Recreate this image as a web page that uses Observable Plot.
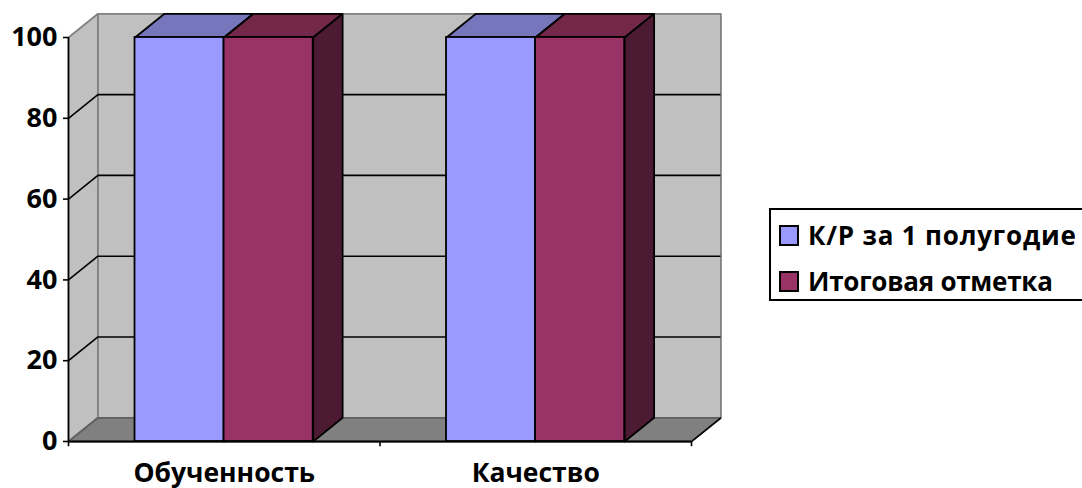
<!DOCTYPE html>
<html><head><meta charset="utf-8">
<script src="https://cdn.jsdelivr.net/npm/d3@7"></script>
<script src="https://cdn.jsdelivr.net/npm/@observablehq/plot@0.6"></script>
<style>
html,body{margin:0;padding:0;background:#fff;overflow:hidden}
#wrap{position:relative;width:1082px;height:488px}
#legend{position:absolute;left:769px;top:208px;width:320px;height:93px;box-sizing:border-box;border:2px solid #000;background:#fff;font:bold 26px "Open Sans",sans-serif;color:#000}
.row{position:absolute;left:8px;display:flex;align-items:center;white-space:nowrap}
.sw{width:16px;height:17px;border:2px solid #000;margin-right:9px;display:inline-block;box-sizing:content-box}
svg text{font-family:"Open Sans",sans-serif;font-weight:bold}
</style></head><body>
<div id="wrap"></div>
<script>
const categories = ["Обученность", "Качество"];
const seriesNames = ["К/Р за 1 полугодие", "Итоговая отметка"];
const kr = [100, 100];
const itog = [100, 100];
const yTicks = [0, 20, 40, 60, 80, 100];
const frontColors = ["#9999ff", "#993366"];
const topColors = ["#7676bd", "#732749"];
const sideColor = "#4d1a33";

const dx = 0.0945, dy = 5.87;      // oblique depth in scale units
const gap = 0.2135, barW = 0.286;  // bar geometry in category units
const seriesValues = [kr, itog];

const poly = (pts, fill, stroke, w = 1.8) =>
  Plot.line([...pts, pts[0]], {x: d => d[0], y: d => d[1], fill, stroke, strokeWidth: w, curve: "linear", strokeLinejoin: "miter"});

const bars = [];
categories.forEach((c, i) => seriesValues.forEach((vals, s) => {
  bars.push({x1: i + gap + s * barW, x2: i + gap + (s + 1) * barW, v: vals[i], s});
}));

const segs = yTicks.slice(1, -1);
const marks = [
  poly([[0,0],[dx,dy],[dx,100+dy],[0,100]], "#c0c0c0", "#808080"),
  poly([[dx,dy],[2+dx,dy],[2+dx,100+dy],[dx,100+dy]], "#c0c0c0", "#808080"),
  poly([[0,0],[2,0],[2+dx,dy],[dx,dy]], "#808080", "#606060"),
  Plot.ruleY(segs, {x1: dx, x2: 2 + dx, y: d => d + dy, stroke: "#000", strokeWidth: 1.6}),
  Plot.link(segs, {x1: 0, y1: d => d, x2: dx, y2: d => d + dy, stroke: "#000", strokeWidth: 1.6}),
  Plot.ruleY([0], {x1: 0, x2: 2, stroke: "#000", strokeWidth: 2}),
  Plot.link([0], {x1: 2, y1: 0, x2: 2 + dx, y2: dy, stroke: "#000", strokeWidth: 1.6}),
  Plot.ruleX([0], {y1: 0, y2: 100, stroke: "#000", strokeWidth: 1.6}),
  Plot.ruleX([0, 1, 2], {y1: 0, y2: -1.3, stroke: "#000", strokeWidth: 1.6}),
  Plot.axisY({ticks: yTicks, tickSize: 5, tickPadding: 6, fontSize: 27, label: null, anchor: "left", strokeWidth: 1.6}),
  ...bars.flatMap(b => [
    poly([[b.x1,b.v],[b.x2,b.v],[b.x2+dx,b.v+dy],[b.x1+dx,b.v+dy]], topColors[b.s], "#000"),
    poly([[b.x2,0],[b.x2+dx,dy],[b.x2+dx,b.v+dy],[b.x2,b.v]], sideColor, "#000"),
    Plot.rect([b], {x1: "x1", x2: "x2", y1: 0, y2: "v", fill: frontColors[b.s], stroke: "#000", strokeWidth: 1.8})
  ]),
  Plot.text(categories, {x: (d, i) => i + 0.5, y: 0, text: d => d, dy: 32, fontSize: 26.5, fill: "#000"})
];

const chart = Plot.plot({
  width: 1082, height: 488,
  marginLeft: 68, marginRight: 391, marginTop: 37, marginBottom: 47,
  style: {background: "transparent", overflow: "visible"},
  x: {type: "linear", domain: [0, 2], range: [68, 691], axis: null},
  y: {type: "linear", domain: [0, 100], range: [441, 37], axis: null},
  marks
});
const wrap = document.getElementById("wrap");
wrap.appendChild(chart);

const legend = document.createElement("div");
legend.id = "legend";
const spacing = ["0.8px", "-0.25px"];
seriesNames.forEach((n, i) => {
  const r = document.createElement("div");
  r.className = "row";
  r.style.top = (i === 0 ? 7 : 53) + "px";
  r.style.letterSpacing = spacing[i];
  const sw = document.createElement("span");
  sw.className = "sw"; sw.style.background = frontColors[i];
  r.appendChild(sw); r.appendChild(document.createTextNode(n));
  legend.appendChild(r);
});
wrap.appendChild(legend);
</script>
</body></html>
